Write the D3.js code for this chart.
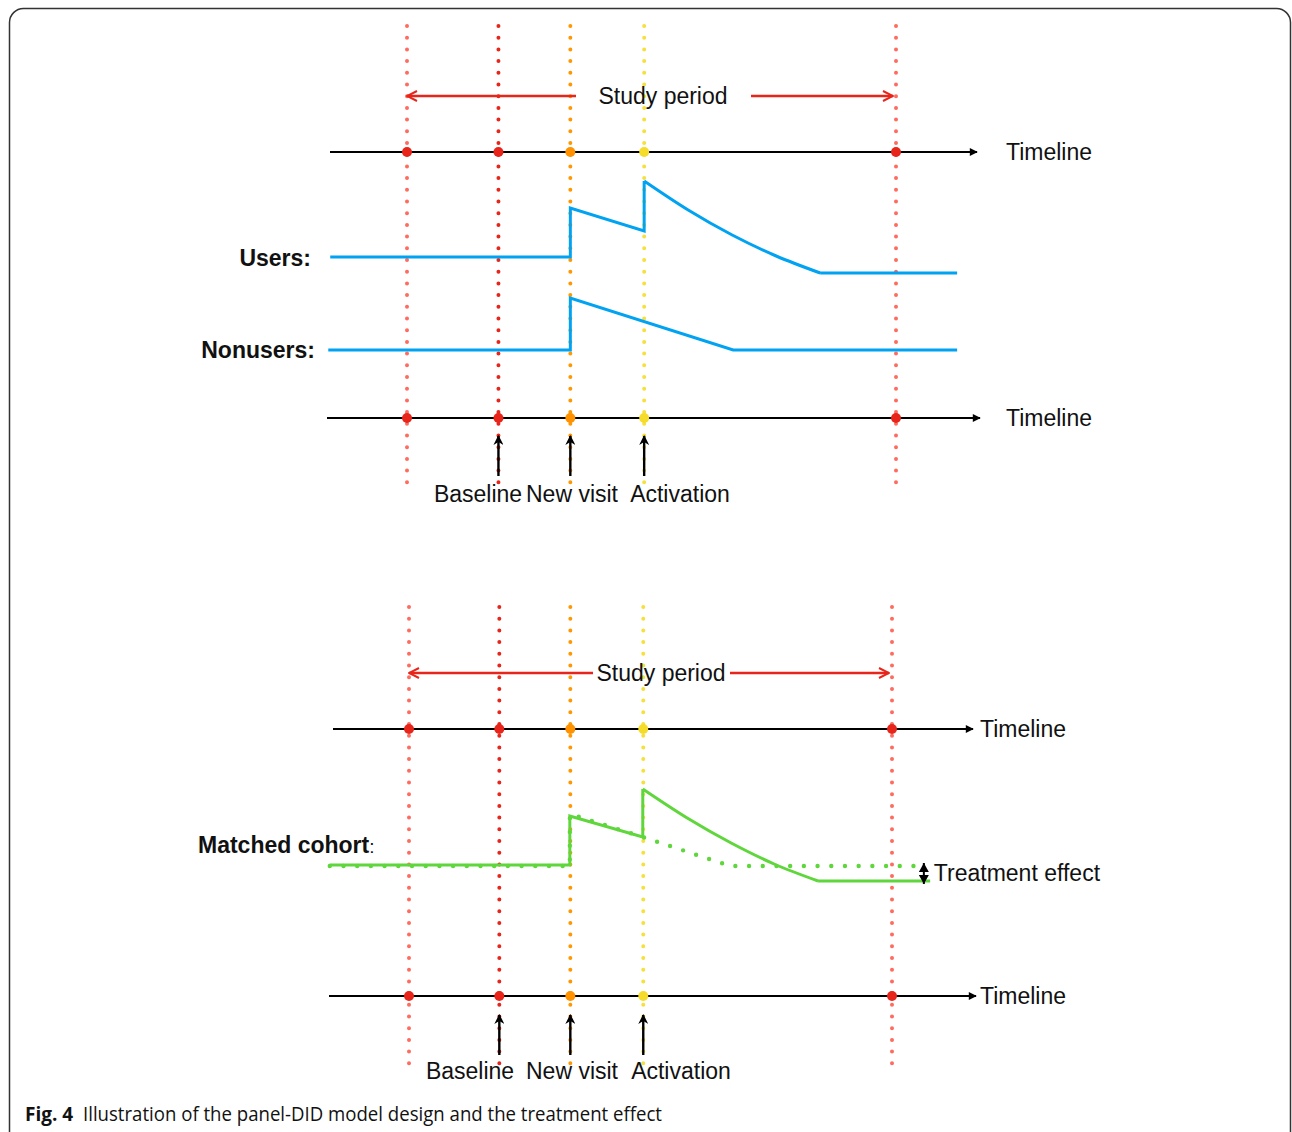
<!DOCTYPE html>
<style>
body { margin: 0; background: #fff; }
text { font-family: "Liberation Sans", Arial, Helvetica, sans-serif; fill: #111; }
</style>
<svg width="1292" height="1132"></svg>
<script src="https://d3js.org/d3.v7.min.js"></script>
<script>

// event times (arbitrary time units, study start = 0, study end = 100)
var eventNames = ["Start", "Baseline", "New visit", "Activation", "End"];
var eventTimes = [0, 18.7, 33.4, 48.5, 100];
var lineColors = ["#ff6b5e", "#e8251a", "#ff9800", "#f6e03a", "#ff6b5e"];
var dotColors = ["#e8251a", "#e8251a", "#ff9200", "#f5dc2a", "#e8251a"];
var labelEvents = ["Baseline", "New visit", "Activation"];

// outcome series: [time, level above baseline]
var usersSteps = [[-15.7, 0], [33.4, 0], [33.4, 4.9], [48.5, 2.6], [48.5, 7.6]];
var usersDecay = [[48.5, 7.6], [57.5, 4.7], [66.5, 2.2], [75.5, 0.1], [84.5, -1.6]];
var usersTail = [[84.5, -1.6], [112.5, -1.6]];

var nonusersSteps = [[-16.1, 0], [33.4, 0], [33.4, 5.2], [66.7, 0], [112.5, 0]];

var matchedSteps = [[-16.4, 0], [33.3, 0], [33.3, 4.9], [48.4, 2.8], [48.4, 7.6]];
var matchedDecay = [[48.4, 7.6], [57.6, 4.7], [66.7, 2.2], [75.6, 0.1], [84.7, -1.6]];
var matchedTail = [[84.7, -1.6], [107.9, -1.6]];
var counterfactual = [[-16.4, -0.1], [33.3, -0.1], [33.3, 5.1], [48.4, 2.8], [66.5, -0.1], [106.8, -0.1]];

var svg = d3.select("svg");

var defs = svg.append("defs");
defs.append("marker").attr("id", "tl").attr("viewBox", "0 0 10 10").attr("refX", 9).attr("refY", 5)
    .attr("markerWidth", 10).attr("markerHeight", 8).attr("markerUnits", "userSpaceOnUse").attr("orient", "auto")
  .append("path").attr("d", "M0,0L10,5L0,10z").attr("fill", "#000");
defs.append("marker").attr("id", "up").attr("viewBox", "0 0 10 10").attr("refX", 9).attr("refY", 5)
    .attr("markerWidth", 13).attr("markerHeight", 10).attr("markerUnits", "userSpaceOnUse").attr("orient", "auto")
  .append("path").attr("d", "M0,0L10,5L0,10L3,5z").attr("fill", "#000");
defs.append("marker").attr("id", "sp").attr("viewBox", "0 0 12 12").attr("refX", 11).attr("refY", 6)
    .attr("markerWidth", 12).attr("markerHeight", 12).attr("markerUnits", "userSpaceOnUse").attr("orient", "auto")
  .append("path").attr("d", "M1,1L11,6L1,11").attr("fill", "none").attr("stroke", "#e8251a").attr("stroke-width", 2);

// frame
svg.append("rect").attr("x", 9.5).attr("y", 8.5).attr("width", 1281).attr("height", 1160)
    .attr("rx", 14).attr("fill", "none").attr("stroke", "#333").attr("stroke-width", 1.5);

function panel(cfg) {
  var g = svg.append("g");
  var x = d3.scaleLinear().domain([0, 100]).range(cfg.xr);

  // dotted event lines
  g.selectAll(".ev").data(eventTimes).enter().append("line")
      .attr("x1", function(d) { return x(d); }).attr("x2", function(d) { return x(d); })
      .attr("y1", cfg.vTop).attr("y2", cfg.vBot)
      .attr("stroke", function(d, i) { return lineColors[i]; })
      .attr("stroke-width", 4).attr("stroke-linecap", "round").attr("stroke-dasharray", "0 11.7");

  // study period
  g.append("line").attr("x1", cfg.spL).attr("x2", x(0)).attr("y1", cfg.spY).attr("y2", cfg.spY)
      .attr("stroke", "#e8251a").attr("stroke-width", 2.5).attr("marker-end", "url(#sp)");
  g.append("line").attr("x1", cfg.spR).attr("x2", x(100) - 3).attr("y1", cfg.spY).attr("y2", cfg.spY)
      .attr("stroke", "#e8251a").attr("stroke-width", 2.5).attr("marker-end", "url(#sp)");
  g.append("text").attr("x", cfg.spText).attr("y", cfg.spY + 8).attr("font-size", 23)
      .attr("text-anchor", "middle").text("Study period");

  // timelines
  cfg.timelines.forEach(function(tl) {
    g.append("line").attr("x1", tl.x1).attr("x2", tl.x2).attr("y1", tl.y).attr("y2", tl.y)
        .attr("stroke", "#000").attr("stroke-width", 2).attr("marker-end", "url(#tl)");
    g.selectAll(null).data(eventTimes).enter().append("circle")
        .attr("cx", function(d) { return x(d); }).attr("cy", tl.y).attr("r", 5)
        .attr("fill", function(d, i) { return dotColors[i]; });
    g.append("text").attr("x", tl.lx).attr("y", tl.y + 8).attr("font-size", 23).text("Timeline");
  });

  // event arrows + labels
  labelEvents.forEach(function(name, i) {
    var t = eventTimes[eventNames.indexOf(name)];
    g.append("line").attr("x1", x(t)).attr("x2", x(t)).attr("y1", cfg.arrowBot).attr("y2", cfg.arrowTop)
        .attr("stroke", "#000").attr("stroke-width", 2.4).attr("marker-end", "url(#up)");
    g.append("text").attr("x", cfg.labelX[i]).attr("y", cfg.labelY).attr("font-size", 23)
        .attr("text-anchor", "middle").text(name);
  });

  return {g: g, x: x};
}

function drawSeries(p, base, parts, color, dotted) {
  var y = d3.scaleLinear().domain([0, 10]).range([base, base - 100]);
  var lin = d3.line().x(function(d) { return p.x(d[0]); }).y(function(d) { return y(d[1]); });
  var crv = d3.line().curve(d3.curveMonotoneX).x(function(d) { return p.x(d[0]); }).y(function(d) { return y(d[1]); });
  var dstr = parts.map(function(part) { return (part.curve ? crv : lin)(part.pts); }).join("");
  var path = p.g.append("path").attr("d", dstr).attr("fill", "none").attr("stroke", color);
  if (dotted) {
    path.attr("stroke-width", 4.4).attr("stroke-linecap", "round").attr("stroke-dasharray", "0 13.7");
  } else {
    path.attr("stroke-width", 3).attr("stroke-linejoin", "miter");
  }
  return y;
}

// top panel
var topP = panel({
  xr: [407, 896], vTop: 26, vBot: 485,
  spY: 96, spL: 576, spR: 751, spText: 663,
  timelines: [{y: 152, x1: 330, x2: 977, lx: 1006}, {y: 418, x1: 327, x2: 980, lx: 1006}],
  arrowTop: 436, arrowBot: 476, labelX: [478, 572, 680], labelY: 502
});
drawSeries(topP, 257, [{pts: usersSteps}, {pts: usersDecay, curve: true}, {pts: usersTail}], "#00a2f2");
drawSeries(topP, 350, [{pts: nonusersSteps}], "#00a2f2");
topP.g.append("text").attr("x", 311).attr("y", 266).attr("font-size", 23).attr("font-weight", "bold")
    .attr("text-anchor", "end").text("Users:");
topP.g.append("text").attr("x", 315).attr("y", 358).attr("font-size", 23).attr("font-weight", "bold")
    .attr("text-anchor", "end").text("Nonusers:");

// bottom panel
var botP = panel({
  xr: [409, 892], vTop: 607, vBot: 1068,
  spY: 673, spL: 593, spR: 730, spText: 661,
  timelines: [{y: 729, x1: 333, x2: 973, lx: 980}, {y: 996, x1: 329, x2: 976, lx: 980}],
  arrowTop: 1015, arrowBot: 1055, labelX: [470, 572, 681], labelY: 1079
});
var yM = drawSeries(botP, 865, [{pts: counterfactual}], "#5fd63c", true);
drawSeries(botP, 865, [{pts: matchedSteps}, {pts: matchedDecay, curve: true}, {pts: matchedTail}], "#5fd63c");

// treatment effect: double arrow between counterfactual and matched tail
var teX = botP.x(counterfactual[counterfactual.length - 1][0]) - 1;
var teY0 = yM(counterfactual[counterfactual.length - 1][1]) - 3, teY1 = yM(matchedTail[1][1]) + 3;
botP.g.append("line").attr("x1", teX).attr("x2", teX).attr("y1", teY0).attr("y2", teY1)
    .attr("stroke", "#000").attr("stroke-width", 2);
botP.g.append("path")
    .attr("d", "M" + teX + "," + teY0 + "l-5,9h10z M" + teX + "," + teY1 + "l-5,-9h10z")
    .attr("fill", "#000");
botP.g.append("text").attr("x", teX + 10).attr("y", 881).attr("font-size", 23).text("Treatment effect");
var mc = botP.g.append("text").attr("x", 198).attr("y", 853).attr("font-size", 23);
mc.append("tspan").attr("font-weight", "bold").text("Matched cohort");
mc.append("tspan").attr("font-size", 19).text(":");

// caption
svg.append("text").attr("x", 25).attr("y", 1121).attr("font-size", 19).attr("font-weight", "bold")
    .style("font-family", "'Open Sans', sans-serif").text("Fig. 4");
svg.append("text").attr("x", 83).attr("y", 1121).attr("font-size", 20).attr("fill", "#222")
    .attr("textLength", 579).attr("lengthAdjust", "spacingAndGlyphs")
    .style("font-family", "'Open Sans', sans-serif")
    .text("Illustration of the panel-DID model design and the treatment effect");

</script>
